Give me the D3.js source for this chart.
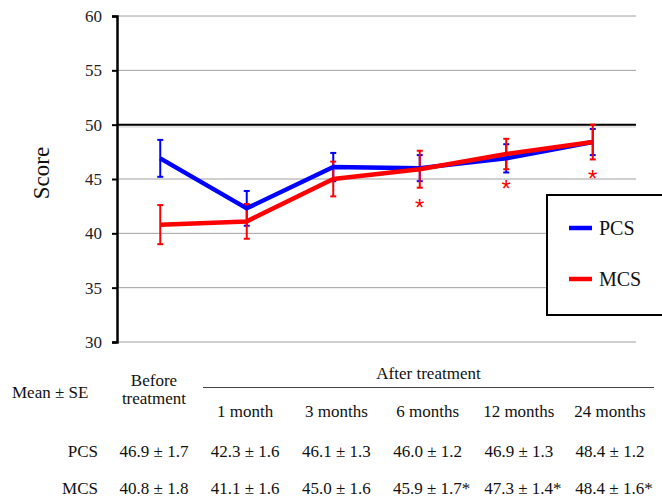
<!DOCTYPE html>
<html>
<head>
<meta charset="utf-8">
<script src="https://cdn.jsdelivr.net/npm/d3@7"></script>
<style>
  html, body { margin: 0; padding: 0; background: #fff; }
  svg { display: block; }
  .serif, .serif text { font-family: 'Liberation Serif', 'Times New Roman', serif; }
</style>
</head>
<body>
<script>
// data
const categories = ['Before treatment', '1 month', '3 months', '6 months', '12 months', '24 months']
const pcsMean = [46.9, 42.3, 46.1, 46.0, 46.9, 48.4]
const pcsSE = [1.7, 1.6, 1.3, 1.2, 1.3, 1.2]
const mcsMean = [40.8, 41.1, 45.0, 45.9, 47.3, 48.4]
const mcsSE = [1.8, 1.6, 1.6, 1.7, 1.4, 1.6]
const mcsStar = [false, false, false, true, true, true]
const yTicks = [30, 35, 40, 45, 50, 55, 60]
const columnLabels = ['1 month', '3 months', '6 months', '12 months', '24 months']

const width = 662
const height = 500

const svg = d3.select('body').append('svg').attr('width', width).attr('height', height)

// scales
const x = d3.scalePoint().domain(categories).range([117, 636]).padding(0.5)
const y = d3.scaleLinear().domain([30, 60]).range([342, 16])

// gridlines
svg
  .append('g')
  .selectAll('line')
  .data(yTicks.filter((d) => d !== 50))
  .enter()
  .append('line')
  .attr('x1', 117)
  .attr('x2', 636)
  .attr('y1', (d) => y(d))
  .attr('y2', (d) => y(d))
  .attr('stroke', '#a0a0a0')
  .attr('stroke-width', 1)

// reference line at 50, with its soft shadow
svg
  .append('line')
  .attr('x1', 117)
  .attr('x2', 636)
  .attr('y1', y(50) + 2)
  .attr('y2', y(50) + 2)
  .attr('stroke', '#e4e4e4')
  .attr('stroke-width', 2)
svg
  .append('line')
  .attr('x1', 117)
  .attr('x2', 636)
  .attr('y1', y(50))
  .attr('y2', y(50))
  .attr('stroke', '#000')
  .attr('stroke-width', 2)

// y axis
const yAxis = svg
  .append('g')
  .attr('transform', 'translate(117,0)')
  .call(d3.axisLeft(y).tickValues(yTicks).tickSize(5).tickPadding(10))
yAxis.attr('font-family', null).attr('font-size', null).classed('serif', true)
yAxis.select('.domain').attr('stroke', '#000').attr('stroke-width', 2.5)
yAxis.selectAll('.tick line').attr('stroke', '#000').attr('stroke-width', 2)
yAxis.selectAll('.tick text').style('font-size', '17px').attr('fill', '#222')

svg
  .append('text')
  .attr('class', 'serif')
  .attr('transform', 'translate(49,173) rotate(-90)')
  .attr('text-anchor', 'middle')
  .style('font-size', '23px')
  .attr('fill', '#111')
  .text('Score')

// series
const series = [
  { name: 'PCS', mean: pcsMean, se: pcsSE, color: '#0000ff' },
  { name: 'MCS', mean: mcsMean, se: mcsSE, color: '#ff0000' },
]

const line = d3
  .line()
  .x((d, i) => x(categories[i]))
  .y((d) => y(d))

// error bars
series.forEach((s) => {
  const bars = svg
    .append('g')
    .selectAll('g')
    .data(s.mean)
    .enter()
    .append('g')
    .attr('stroke', s.color)
    .attr('stroke-width', 2)
  bars
    .append('line')
    .attr('x1', (d, i) => x(categories[i]))
    .attr('x2', (d, i) => x(categories[i]))
    .attr('y1', (d, i) => y(d - s.se[i]))
    .attr('y2', (d, i) => y(d + s.se[i]))
  bars
    .append('line')
    .attr('x1', (d, i) => x(categories[i]) - 3)
    .attr('x2', (d, i) => x(categories[i]) + 3)
    .attr('y1', (d, i) => y(d + s.se[i]))
    .attr('y2', (d, i) => y(d + s.se[i]))
  bars
    .append('line')
    .attr('x1', (d, i) => x(categories[i]) - 3)
    .attr('x2', (d, i) => x(categories[i]) + 3)
    .attr('y1', (d, i) => y(d - s.se[i]))
    .attr('y2', (d, i) => y(d - s.se[i]))
})

series.forEach((s) => {
  svg
    .append('path')
    .datum(s.mean)
    .attr('d', line)
    .attr('fill', 'none')
    .attr('stroke', s.color)
    .attr('stroke-width', 4.5)
    .attr('stroke-linejoin', 'round')
})

// significance stars
svg
  .append('g')
  .selectAll('text')
  .data(mcsMean.map((d, i) => ({ v: d - mcsSE[i], c: categories[i], on: mcsStar[i] })).filter((d) => d.on))
  .enter()
  .append('text')
  .attr('x', (d) => x(d.c))
  .attr('y', (d) => y(d.v) + 28)
  .attr('text-anchor', 'middle')
  .style('font-family', "'Liberation Sans', Arial, sans-serif")
  .style('font-size', '24px')
  .attr('fill', '#ff0000')
  .text('*')

// legend
const legend = svg.append('g').attr('class', 'serif').attr('transform', 'translate(547,195)')
legend
  .append('rect')
  .attr('width', 130)
  .attr('height', 120)
  .attr('fill', '#fff')
  .attr('stroke', '#000')
  .attr('stroke-width', 2)
series.forEach((s, i) => {
  legend
    .append('line')
    .attr('x1', 22)
    .attr('x2', 45)
    .attr('y1', 33 + i * 51)
    .attr('y2', 33 + i * 51)
    .attr('stroke', s.color)
    .attr('stroke-width', 4.5)
  legend
    .append('text')
    .attr('x', 52)
    .attr('y', 40 + i * 51)
    .style('font-size', '20px')
    .attr('fill', '#111')
    .text(s.name)
})

// table under the chart
const col = d3.scalePoint().domain(categories).range([154, 610])
const table = svg.append('g').attr('class', 'serif').style('font-size', '17px').attr('fill', '#111')

table.append('text').attr('x', 12).attr('y', 398).text('Mean \u00b1 SE')
table.append('text').attr('x', col(categories[0])).attr('y', 386).attr('text-anchor', 'middle').text('Before')
table.append('text').attr('x', col(categories[0])).attr('y', 404).attr('text-anchor', 'middle').text('treatment')
table
  .append('text')
  .attr('x', (203 + 654) / 2)
  .attr('y', 379)
  .attr('text-anchor', 'middle')
  .text('After treatment')
svg
  .append('line')
  .attr('x1', 203)
  .attr('x2', 654)
  .attr('y1', 387.5)
  .attr('y2', 387.5)
  .attr('stroke', '#444')
  .attr('stroke-width', 1.2)

table
  .selectAll('.colhead')
  .data(columnLabels)
  .enter()
  .append('text')
  .attr('x', (d) => col(d))
  .attr('y', 417)
  .attr('text-anchor', 'middle')
  .text((d) => d)

const rows = [
  { name: 'PCS', mean: pcsMean, se: pcsSE, star: categories.map(() => false), yy: 457 },
  { name: 'MCS', mean: mcsMean, se: mcsSE, star: mcsStar, yy: 494 },
]
rows.forEach((r) => {
  table.append('text').attr('x', 98).attr('y', r.yy).attr('text-anchor', 'end').text(r.name)
  table
    .append('g')
    .selectAll('text')
    .data(r.mean)
    .enter()
    .append('text')
    .attr('x', (d, i) => col(categories[i]) + (r.star[i] ? 4 : 0))
    .attr('y', r.yy)
    .attr('text-anchor', 'middle')
    .text((d, i) => d.toFixed(1) + ' \u00b1 ' + r.se[i].toFixed(1) + (r.star[i] ? '*' : ''))
})
</script>
</body>
</html>
